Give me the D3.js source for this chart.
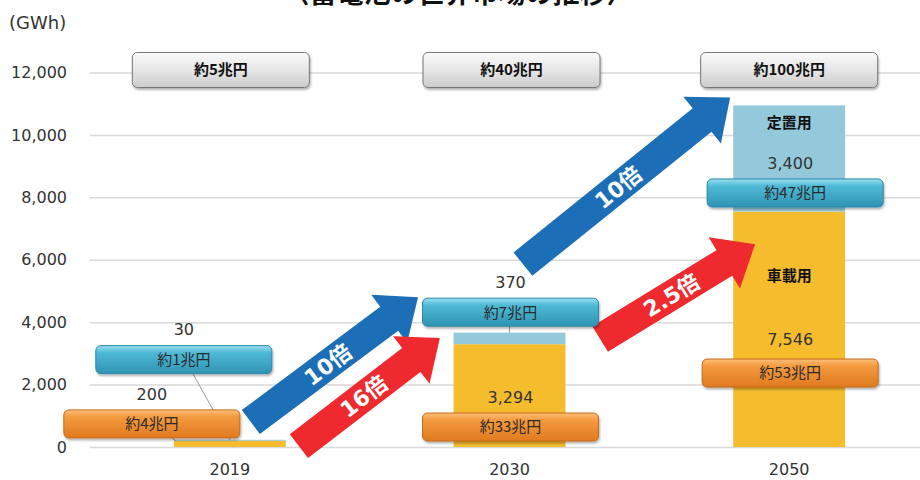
<!DOCTYPE html>
<html>
<head>
<meta charset="utf-8">
<script src="https://cdn.jsdelivr.net/npm/d3@7"></script>
<style>
  body { margin: 0; background: #fff; }
  text { font-family: "DejaVu Sans", "Noto Sans CJK JP", sans-serif; }
  .jp { font-family: "Noto Sans CJK JP", sans-serif; }
</style>
</head>
<body>
<div id="chart"></div>
<script>
// data
const years = ["2019", "2030", "2050"]
const vehicleGWh = [200, 3294, 7546]      // 車載用
const stationaryGWh = [30, 370, 3400]     // 定置用
const totalMarket = ["約5兆円", "約40兆円", "約100兆円"]
const vehicleMarket = ["約4兆円", "約33兆円", "約53兆円"]
const stationaryMarket = ["約1兆円", "約7兆円", "約47兆円"]
const yTicks = [0, 2000, 4000, 6000, 8000, 10000, 12000]
const growthLabels = ["10倍", "16倍", "10倍", "2.5倍"]
const growthSeries = ["stationary", "vehicle", "stationary", "vehicle"]
// arrow ends as [category index, GWh]
const growthFrom = [[0.075, 800], [0.247, 30], [1.048, 5860], [1.324, 3460]]
const growthTo = [[0.673, 4800], [0.751, 3490], [1.789, 11200], [1.878, 6500]]

const w = 920
const h = 480

const svg = d3.select("#chart").append("svg")
    .attr("width", w)
    .attr("height", h)

const x = d3.scaleBand()
    .domain(years)
    .range([90, 929])
    .paddingInner(0.6)
    .paddingOuter(0.3)

const y = d3.scaleLinear()
    .domain([0, 12000])
    .range([447, 72.5])

const xc = d => x(d) + x.bandwidth() / 2
const xi = d3.scaleLinear().domain([0, 2]).range([xc(years[0]), xc(years[2])])

// gradients + shadow
const defs = svg.append("defs")
function grad(id, stops) {
    const g = defs.append("linearGradient").attr("id", id)
        .attr("x1", 0).attr("y1", 0).attr("x2", 0).attr("y2", 1)
    stops.forEach(s => g.append("stop").attr("offset", s[0]).attr("stop-color", s[1]))
}
grad("gGray", [[0, "#fafafa"], [0.5, "#e6e6e6"], [1, "#cbcbcb"]])
grad("gCyan", [[0, "#9be0f0"], [0.25, "#4fbad6"], [1, "#2f93b3"]])
grad("gOrange", [[0, "#fcc07a"], [0.25, "#f49a3e"], [1, "#e07a1f"]])
const f = defs.append("filter").attr("id", "shadow")
    .attr("x", "-10%").attr("y", "-20%").attr("width", "120%").attr("height", "160%")
f.append("feDropShadow").attr("dx", 1).attr("dy", 2).attr("stdDeviation", 1.2)
    .attr("flood-color", "#000").attr("flood-opacity", 0.3)

// title (cut off at top, as in the source)
svg.append("text")
    .attr("class", "jp")
    .attr("x", 458)
    .attr("y", 3)
    .attr("text-anchor", "middle")
    .attr("font-size", 27)
    .attr("font-weight", "bold")
    .attr("fill", "#111")
    .text("〈蓄電池の世界市場の推移〉")

svg.append("text")
    .attr("x", 9)
    .attr("y", 29)
    .attr("font-size", 18)
    .attr("fill", "#333")
    .text("(GWh)")

// y axis with gridlines
const yAxis = d3.axisLeft(y)
    .tickValues(yTicks)
    .tickFormat(d3.format(","))
    .tickSize(-830)
    .tickPadding(23)

const yg = svg.append("g")
    .attr("transform", "translate(90,0)")
    .call(yAxis)
yg.select(".domain").remove()
yg.selectAll(".tick line").attr("stroke", "#d9d9d9").attr("stroke-width", 1.5)
yg.selectAll(".tick text").attr("font-size", 16).attr("fill", "#333")
    .style("font-family", "'DejaVu Sans', sans-serif")

// x axis
const xAxis = d3.axisBottom(x).tickSize(0).tickPadding(17)
const xg = svg.append("g")
    .attr("transform", `translate(0,${y(0)})`)
    .call(xAxis)
xg.select(".domain").remove()
xg.selectAll(".tick text").attr("font-size", 16).attr("fill", "#333")
    .style("font-family", "'DejaVu Sans', sans-serif")

// stacked bars
svg.selectAll("rect.veh")
    .data(years)
    .enter()
    .append("rect")
    .attr("class", "veh")
    .attr("x", d => x(d))
    .attr("width", x.bandwidth())
    .attr("y", (d, i) => y(vehicleGWh[i]))
    .attr("height", (d, i) => y(0) - y(vehicleGWh[i]))
    .attr("fill", "#f5bc2e")

svg.selectAll("rect.sta")
    .data(years)
    .enter()
    .append("rect")
    .attr("class", "sta")
    .attr("x", d => x(d))
    .attr("width", x.bandwidth())
    .attr("y", (d, i) => y(vehicleGWh[i] + stationaryGWh[i]))
    .attr("height", (d, i) => y(vehicleGWh[i]) - y(vehicleGWh[i] + stationaryGWh[i]))
    .attr("fill", "#93c9da")

// box layout: [dx from bar centre, GWh at box centre]
const staBox = [[-46, 2800], [1, 4320], [6, 8140]]
const vehBox = [[-78, 740], [1, 640], [1, 2370]]
const totBox = [[-9, 12080], [2, 12080], [0, 12080]]
const boxW = 176, boxH = 28

// leader lines
const lines = svg.append("g").attr("stroke", "#999").attr("stroke-width", 1)
lines.append("line")
    .attr("x1", xc(years[0]) + staBox[0][0] + 9).attr("y1", y(staBox[0][1]) + boxH / 2)
    .attr("x2", xc(years[0])).attr("y2", y(vehicleGWh[0] + stationaryGWh[0]))
lines.append("line")
    .attr("x1", xc(years[0]) + vehBox[0][0] + 20).attr("y1", y(vehBox[0][1]) + boxH / 2)
    .attr("x2", x(years[0]) + 2).attr("y2", y(vehicleGWh[0]))
lines.append("line")
    .attr("x1", xc(years[1])).attr("y1", y(staBox[1][1]) + boxH / 2)
    .attr("x2", xc(years[1])).attr("y2", y(vehicleGWh[1] + stationaryGWh[1]))

// growth arrows
const shaftW = 30, headW = 60, headL = 36
function arrowPts(a, b) {
    const tx = xi(a[0]), ty = y(a[1]), px = xi(b[0]), py = y(b[1])
    const len = Math.hypot(px - tx, py - ty)
    const ux = (px - tx) / len, uy = (py - ty) / len
    const nx = -uy, ny = ux
    const bx = px - ux * headL, by = py - uy * headL
    return [
        [tx + nx * shaftW / 2, ty + ny * shaftW / 2],
        [bx + nx * shaftW / 2, by + ny * shaftW / 2],
        [bx + nx * headW / 2, by + ny * headW / 2],
        [px, py],
        [bx - nx * headW / 2, by - ny * headW / 2],
        [bx - nx * shaftW / 2, by - ny * shaftW / 2],
        [tx - nx * shaftW / 2, ty - ny * shaftW / 2]
    ]
}

const arrows = svg.selectAll("g.arrow")
    .data(growthLabels)
    .enter()
    .append("g")
    .attr("class", "arrow")

arrows.append("polygon")
    .attr("points", (d, i) => arrowPts(growthFrom[i], growthTo[i]).map(p => p.join(",")).join(" "))
    .attr("fill", (d, i) => growthSeries[i] === "stationary" ? "#1c6fb7" : "#ee2a2e")

arrows.append("text")
    .attr("transform", (d, i) => {
        const tx = xi(growthFrom[i][0]), ty = y(growthFrom[i][1])
        const px = xi(growthTo[i][0]), py = y(growthTo[i][1])
        const t = 0.46
        const cx = tx + (px - tx) * t, cy = ty + (py - ty) * t
        const ang = Math.atan2(py - ty, px - tx) * 180 / Math.PI
        return `translate(${cx},${cy}) rotate(${ang})`
    })
    .attr("text-anchor", "middle")
    .attr("dy", "0.36em")
    .attr("font-size", 22)
    .attr("font-weight", "bold")
    .attr("fill", "#fff")
    .text(d => d)

// market boxes
function drawBoxes(cls, pos, labels, fill, stroke, bw, bh, bold) {
    const g = svg.selectAll("g." + cls)
        .data(years)
        .enter()
        .append("g")
        .attr("class", cls)
        .attr("transform", (d, i) => `translate(${xc(d) + pos[i][0]},${y(pos[i][1])})`)
    g.append("rect")
        .attr("x", -bw / 2).attr("y", -bh / 2)
        .attr("width", bw).attr("height", bh)
        .attr("rx", 5)
        .attr("fill", fill)
        .attr("stroke", stroke)
        .attr("stroke-width", 1)
        .attr("filter", "url(#shadow)")
    g.append("text")
        .attr("class", "jp")
        .attr("text-anchor", "middle")
        .attr("dy", "0.36em")
        .attr("font-size", 15)
        .attr("font-weight", bold ? "bold" : "normal")
        .attr("fill", bold ? "#111" : "#2a2a2a")
        .text((d, i) => labels[i])
}
drawBoxes("tot", totBox, totalMarket, "url(#gGray)", "#777", 177, 35, true)
drawBoxes("sbox", staBox, stationaryMarket, "url(#gCyan)", "#2a87a6", boxW, boxH, false)
drawBoxes("vbox", vehBox, vehicleMarket, "url(#gOrange)", "#c66a1a", boxW, boxH, false)

// value labels above boxes
const fmt = d3.format(",")
svg.selectAll("text.sval")
    .data(years)
    .enter()
    .append("text")
    .attr("class", "sval")
    .attr("x", (d, i) => xc(d) + staBox[i][0] - (i === 2 ? 5 : 0))
    .attr("y", (d, i) => y(staBox[i][1]) - boxH / 2 - 16)
    .attr("dy", "0.36em")
    .attr("text-anchor", "middle")
    .attr("font-size", 16)
    .attr("fill", "#333")
    .text((d, i) => fmt(stationaryGWh[i]))

svg.selectAll("text.vval")
    .data(years)
    .enter()
    .append("text")
    .attr("class", "vval")
    .attr("x", (d, i) => xc(d) + vehBox[i][0])
    .attr("y", (d, i) => y(vehBox[i][1]) - boxH / 2 - (i === 2 ? 20 : 16))
    .attr("dy", "0.36em")
    .attr("text-anchor", "middle")
    .attr("font-size", 16)
    .attr("fill", "#333")
    .text((d, i) => fmt(vehicleGWh[i]))

// segment names on 2050 bar
const last = years.length - 1
svg.append("text")
    .attr("class", "jp")
    .attr("x", xc(years[last]))
    .attr("y", y(vehicleGWh[last] + stationaryGWh[last]) + 17)
    .attr("dy", "0.36em")
    .attr("text-anchor", "middle")
    .attr("font-size", 15)
    .attr("font-weight", "bold")
    .attr("fill", "#111")
    .text("定置用")
svg.append("text")
    .attr("class", "jp")
    .attr("x", xc(years[last]))
    .attr("y", y(vehicleGWh[last]) + 64)
    .attr("dy", "0.36em")
    .attr("text-anchor", "middle")
    .attr("font-size", 15)
    .attr("font-weight", "bold")
    .attr("fill", "#111")
    .text("車載用")
</script>
</body>
</html>
